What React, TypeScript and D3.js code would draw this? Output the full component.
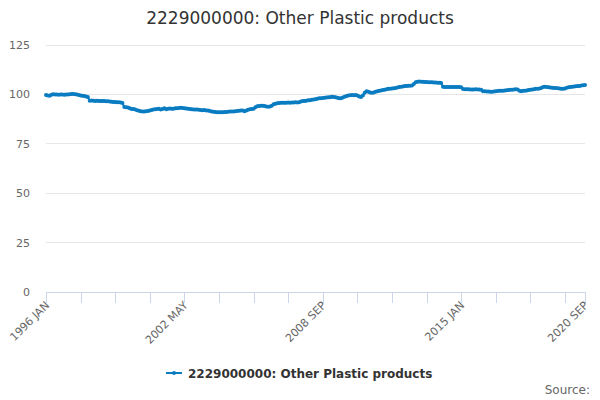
import React, { useEffect, useRef } from 'react';
import * as d3 from 'd3';

const title = '2229000000: Other Plastic products';
const seriesName = '2229000000: Other Plastic products';
const monthNames = ['JAN', 'FEB', 'MAR', 'APR', 'MAY', 'JUN', 'JUL', 'AUG', 'SEP', 'OCT', 'NOV', 'DEC'];
const years = d3.range(1996, 2021);

// monthly index values, one row per year (1996 .. 2020 SEP)
const values1996_2001 = [
  99.7, 99.4, 99.3, 99.8, 100.1, 100.0, 99.9, 99.8, 100.0, 99.9, 99.8, 99.9,
  100.0, 100.1, 100.2, 100.2, 100.1, 99.9, 99.7, 99.5, 99.3, 99.2, 99.0, 98.7,
  96.8, 96.9, 96.8, 96.7, 96.8, 96.7, 96.6, 96.7, 96.6, 96.5, 96.5, 96.4,
  96.3, 96.2, 96.1, 96.0, 96.0, 95.9, 95.6, 93.6, 93.5, 93.4, 93.0, 92.6,
  92.6, 92.3, 92.0, 91.7, 91.5, 91.4, 91.4, 91.5, 91.6, 91.9, 92.1, 92.3,
  92.5, 92.6, 92.8, 92.4, 92.6, 93.0, 92.5, 92.8, 92.9, 92.7, 92.8, 93.0,
];
const values2002_2007 = [
  93.0, 93.1, 93.2, 93.1, 93.0, 92.9, 92.8, 92.6, 92.5, 92.4, 92.3, 92.3,
  92.2, 92.1, 92.0, 92.1, 91.9, 91.8, 91.6, 91.3, 91.2, 91.1, 91.0, 91.0,
  91.0, 91.0, 91.1, 91.1, 91.2, 91.3, 91.3, 91.4, 91.5, 91.6, 91.7, 91.8,
  91.9, 91.5, 91.9, 92.2, 92.5, 92.6, 92.8, 93.5, 94.0, 94.1, 94.2, 94.2,
  94.1, 93.9, 93.8, 93.9, 94.2, 95.0, 95.3, 95.5, 95.7, 95.8, 95.8, 95.8,
  95.8, 95.9, 95.8, 95.9, 95.9, 96.0, 95.9, 96.0, 96.4, 96.6, 96.7, 96.8,
];
const values2008_2013 = [
  97.0, 97.1, 97.3, 97.4, 97.6, 97.8, 98.0, 98.1, 98.2, 98.3, 98.4, 98.5,
  98.6, 98.8, 98.7, 98.5, 98.3, 98.1, 98.0, 98.4, 98.8, 99.2, 99.5, 99.6,
  99.7, 99.6, 99.7, 99.5, 99.0, 98.7, 99.5, 100.8, 101.6, 101.4, 100.9, 100.8,
  101.0, 101.3, 101.6, 101.8, 102.0, 102.2, 102.3, 102.6, 102.8, 102.9, 103.0, 103.1,
  103.2, 103.5, 103.7, 103.9, 104.0, 104.2, 104.3, 104.4, 104.4, 104.5, 105.3, 106.2,
  106.4, 106.5, 106.4, 106.4, 106.3, 106.3, 106.2, 106.2, 106.1, 106.0, 106.0, 105.9,
];
const values2014_2020 = [
  105.9, 105.8, 103.9, 103.8, 103.8, 103.8, 103.7, 103.8, 103.8, 103.7, 103.7, 103.7,
  103.6, 102.7, 102.6, 102.6, 102.6, 102.5, 102.5, 102.5, 102.6, 102.5, 102.5, 102.4,
  101.6, 101.6, 101.5, 101.5, 101.4, 101.4, 101.5, 101.6, 101.7, 101.8, 101.8, 101.9,
  102.0, 102.1, 102.2, 102.3, 102.4, 102.5, 102.6, 102.5, 101.9, 101.6, 101.8, 101.9,
  102.0, 102.2, 102.3, 102.5, 102.6, 102.8, 102.9, 103.0, 103.2, 103.8, 103.9, 103.8,
  103.6, 103.5, 103.4, 103.3, 103.2, 103.1, 103.0, 102.9, 102.8, 103.0, 103.4, 103.6,
  103.8, 103.9, 104.0, 104.1, 104.2, 104.3, 104.5, 104.6, 104.7,
];
const values = [...values1996_2001, ...values2002_2007, ...values2008_2013, ...values2014_2020];
const categories = years.flatMap(y => monthNames.map(m => `${y} ${m}`)).slice(0, values.length);
const yTicks = [0, 25, 50, 75, 100, 125];

const color = '#0a7cc1';
const font = '"DejaVu Sans", sans-serif';

export default function App() {
  const ref = useRef<SVGSVGElement>(null);

  useEffect(() => {
    if (!ref.current) return;
    document.body.style.margin = '0';
    const svg = d3.select(ref.current);
    svg.selectAll('*').remove();

    const x = d3.scaleLinear().domain([0, categories.length - 1]).range([46, 585]);
    const y = d3.scaleLinear().domain([0, 125]).range([292, 45]);

    svg.append('rect').attr('width', 600).attr('height', 400).attr('fill', '#fff');

    svg.append('text').attr('x', 300).attr('y', 24).attr('text-anchor', 'middle')
      .attr('font-family', font).attr('font-size', '17px').attr('fill', '#333').text(title);

    // grid + y labels
    const grid = svg.append('g');
    yTicks.forEach(t => {
      if (t > 0) grid.append('line').attr('x1', 46).attr('x2', 585).attr('y1', y(t)).attr('y2', y(t))
        .attr('stroke', '#e6e6e6').attr('stroke-width', 1).attr('shape-rendering', 'crispEdges');
      grid.append('text').attr('x', 30).attr('y', y(t) + 4).attr('text-anchor', 'end')
        .attr('font-family', font).attr('font-size', '11px').attr('fill', '#666').text(t);
    });

    // x axis
    const n = categories.length;
    const tickIdx = d3.range(0, n - 1, 19).concat([n - 1]);
    const labelIdx = [0, 76, 152, 228, n - 1];
    const ax = svg.append('g');
    ax.append('line').attr('x1', 46).attr('x2', 585).attr('y1', 292.5).attr('y2', 292.5)
      .attr('stroke', '#ccd6eb').attr('stroke-width', 1);
    tickIdx.forEach(i => {
      ax.append('line').attr('x1', Math.round(x(i)) + 0.5).attr('x2', Math.round(x(i)) + 0.5)
        .attr('y1', 292).attr('y2', 303).attr('stroke', '#ccd6eb').attr('stroke-width', 1);
    });
    labelIdx.forEach(i => {
      ax.append('text').attr('transform', `translate(${x(i) + 4},${306}) rotate(-45)`)
        .attr('text-anchor', 'end').attr('font-family', font).attr('font-size', '11px')
        .attr('fill', '#666').text(categories[i]);
    });

    // series
    const line = d3.line<number>().x((_, i) => x(i)).y(d => y(d));
    svg.append('path').datum(values).attr('d', line).attr('fill', 'none')
      .attr('stroke', color).attr('stroke-width', 2).attr('stroke-linejoin', 'round');
    svg.append('g').selectAll('circle').data(values).enter().append('circle')
      .attr('cx', (_, i) => x(i)).attr('cy', d => y(d)).attr('r', 2).attr('fill', color);

    // legend
    const lg = svg.append('g');
    lg.append('line').attr('x1', 166).attr('x2', 182).attr('y1', 373).attr('y2', 373)
      .attr('stroke', color).attr('stroke-width', 2);
    lg.append('circle').attr('cx', 174).attr('cy', 373).attr('r', 2).attr('fill', color);
    lg.append('text').attr('x', 188).attr('y', 377.5).attr('font-family', font)
      .attr('font-size', '12px').attr('font-weight', 'bold').attr('fill', '#333').text(seriesName);

    svg.append('text').attr('x', 590).attr('y', 394).attr('text-anchor', 'end')
      .attr('font-family', font).attr('font-size', '12px').attr('fill', '#666').text('Source:');
  }, []);

  return <svg ref={ref} width={600} height={400} style={{ display: 'block' }} />;
}
